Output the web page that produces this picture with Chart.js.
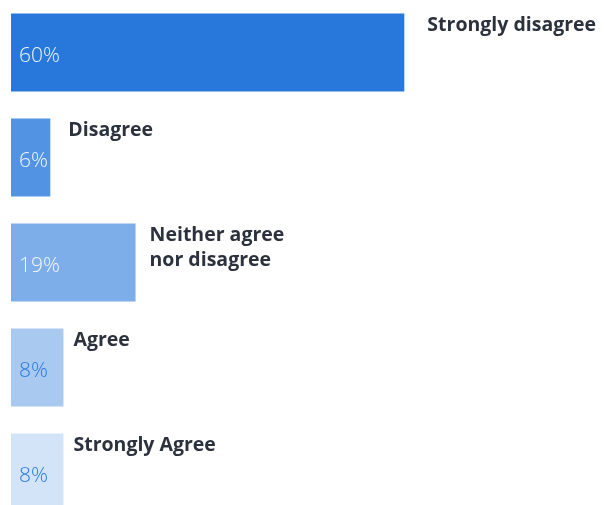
<!DOCTYPE html>
<html>
<head>
<meta charset="utf-8">
<script src="https://cdn.jsdelivr.net/npm/chart.js@4/dist/chart.umd.min.js"></script>
<style>
  html, body { margin: 0; padding: 0; background: #ffffff; overflow: hidden; }
  #wrap { position: relative; width: 605px; height: 525px; }
</style>
</head>
<body>
<div id="wrap"><canvas id="chart" width="605" height="525"></canvas></div>
<script>
// Survey responses, share of respondents (%)
const categories = [
  ['Strongly disagree'],
  ['Disagree'],
  ['Neither agree', 'nor disagree'],
  ['Agree'],
  ['Strongly Agree']
];
const shares = [60, 6, 19, 8, 8];

// Base blue, faded per answer step
const barColors = [
  'rgba(40,120,220,1)',
  'rgba(40,120,220,0.8)',
  'rgba(40,120,220,0.6)',
  'rgba(40,120,220,0.4)',
  'rgba(40,120,220,0.2)'
];
const valueColors = ['rgba(255,255,255,0.92)', 'rgba(255,255,255,0.92)', 'rgba(255,255,255,0.92)', '#2a7bdc', '#2a7bdc'];
const nameGaps = [23, 18, 14, 10, 10];

const barLabels = {
  id: 'barLabels',
  afterDatasetsDraw(chart) {
    const ctx = chart.ctx;
    const meta = chart.getDatasetMeta(0);
    ctx.save();
    meta.data.forEach((bar, i) => {
      const top = bar.y - bar.height / 2;
      // value inside the bar
      ctx.font = '300 21px "Open Sans", Lato, sans-serif';
      ctx.fillStyle = valueColors[i];
      ctx.textAlign = 'left';
      ctx.textBaseline = 'alphabetic';
      ctx.fillText(shares[i] + '%', bar.base + 8, bar.y + 9);
      // answer name to the right of the bar
      ctx.font = 'bold 19.5px "Open Sans", Lato, sans-serif';
      ctx.fillStyle = '#2c323d';
      categories[i].forEach((line, k) => {
        ctx.fillText(line, bar.x + nameGaps[i], top + 17.5 + k * 25);
      });
    });
    ctx.restore();
  }
};

new Chart(document.getElementById('chart'), {
  type: 'bar',
  data: {
    labels: categories.map(c => c.join(' ')),
    datasets: [{
      data: shares,
      backgroundColor: barColors,
      borderWidth: 0,
      barPercentage: 1,
      categoryPercentage: 0.743
    }]
  },
  options: {
    indexAxis: 'y',
    responsive: false,
    animation: false,
    layout: { padding: { left: 11, right: 4, top: 0, bottom: 0 } },
    plugins: {
      legend: { display: false },
      tooltip: { enabled: false }
    },
    scales: {
      x: { display: false, min: 0, max: 90 },
      y: { display: false }
    }
  },
  plugins: [barLabels]
});
</script>
</body>
</html>
